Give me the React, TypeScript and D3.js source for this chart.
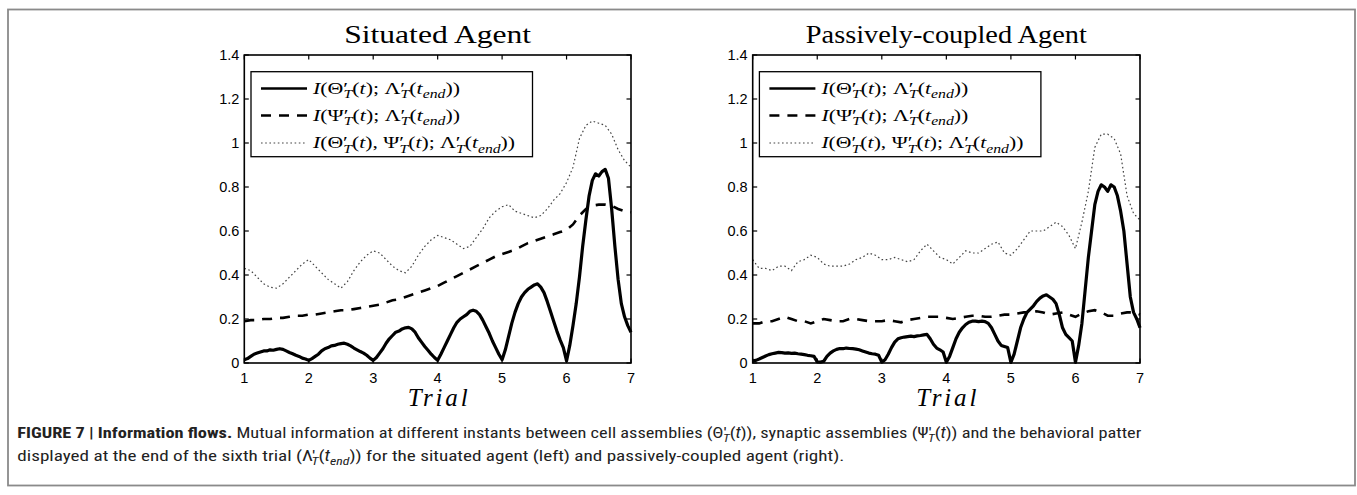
import React from 'react';
import * as d3 from 'd3';

// ---------- data ----------
const trialTicks = [1, 2, 3, 4, 5, 6, 7];
const valueTicks = [0, 0.2, 0.4, 0.6, 0.8, 1, 1.2, 1.4];
const valueTickLabels = ['0', '0.2', '0.4', '0.6', '0.8', '1', '1.2', '1.4'];
const panelTitles = ['Situated Agent', 'Passively-coupled Agent'];

// sample times (trial units): fine grid (step 0.05) and coarse grid (step 0.1)
const tFine = d3.range(121).map((i) => 1 + i * 0.05);
const tCoarse = d3.range(61).map((i) => 1 + i * 0.1);

// Situated agent
const solidLeft = [
  0.015, 0.02, 0.03, 0.04, 0.045, 0.05, 0.055, 0.055, 0.06, 0.058, 0.062, 0.065, 0.062, 0.055, 0.048, 0.042, 0.035, 0.03, 0.022, 0.018,
  0.012, 0.02, 0.03, 0.04, 0.055, 0.065, 0.07, 0.078, 0.08, 0.085, 0.088, 0.09, 0.085, 0.078, 0.068, 0.06, 0.052, 0.045, 0.035, 0.022,
  0.012, 0.025, 0.045, 0.065, 0.09, 0.11, 0.125, 0.14, 0.145, 0.155, 0.16, 0.162, 0.155, 0.14, 0.115, 0.095, 0.075, 0.058, 0.04, 0.025,
  0.012, 0.04, 0.07, 0.1, 0.13, 0.16, 0.185, 0.2, 0.21, 0.22, 0.235, 0.24, 0.235, 0.22, 0.195, 0.165, 0.135, 0.1, 0.07, 0.04,
  0.015, 0.06, 0.12, 0.18, 0.23, 0.27, 0.3, 0.32, 0.335, 0.345, 0.355, 0.36, 0.345, 0.32, 0.28, 0.235, 0.19, 0.145, 0.105, 0.07,
  0.01, 0.08, 0.17, 0.27, 0.39, 0.53, 0.65, 0.76, 0.83, 0.86, 0.85, 0.87, 0.88, 0.84, 0.7, 0.53, 0.38, 0.27, 0.21, 0.17,
  0.14,
];
const dashedLeft = [
  0.19, 0.195, 0.195, 0.2, 0.2, 0.205, 0.205, 0.21, 0.215, 0.215,
  0.22, 0.22, 0.225, 0.23, 0.235, 0.24, 0.24, 0.245, 0.25, 0.255,
  0.26, 0.265, 0.275, 0.285, 0.29, 0.3, 0.31, 0.32, 0.33, 0.34,
  0.35, 0.365, 0.38, 0.395, 0.41, 0.425, 0.44, 0.455, 0.47, 0.485,
  0.495, 0.505, 0.515, 0.53, 0.545, 0.555, 0.565, 0.575, 0.585, 0.595,
  0.605, 0.63, 0.67, 0.7, 0.715, 0.72, 0.72, 0.715, 0.7, 0.69,
  0.685,
];
const dottedLeft = [
  0.43, 0.42, 0.39, 0.36, 0.345, 0.34, 0.36, 0.39, 0.42, 0.45,
  0.47, 0.44, 0.41, 0.38, 0.36, 0.34, 0.37, 0.42, 0.46, 0.49,
  0.51, 0.5, 0.47, 0.44, 0.42, 0.41, 0.44, 0.49, 0.53, 0.56,
  0.58, 0.57, 0.56, 0.54, 0.52, 0.53, 0.57, 0.61, 0.66, 0.69,
  0.71, 0.72, 0.69, 0.68, 0.67, 0.66, 0.67, 0.7, 0.74, 0.77,
  0.82, 0.89, 1.02, 1.08, 1.1, 1.09, 1.08, 1.04, 0.97, 0.92,
  0.89,
];

// Passively-coupled agent
const solidRight = [
  0.01, 0.012, 0.018, 0.025, 0.032, 0.038, 0.042, 0.045, 0.048, 0.047, 0.045, 0.046, 0.044, 0.045, 0.042, 0.04, 0.038, 0.035, 0.033, 0.03,
  0.005, 0.004, 0.008, 0.03, 0.045, 0.055, 0.062, 0.066, 0.065, 0.068, 0.066, 0.065, 0.063, 0.06, 0.055, 0.05, 0.045, 0.042, 0.04, 0.035,
  0.004, 0.015, 0.04, 0.07, 0.095, 0.11, 0.115, 0.118, 0.12, 0.122, 0.12, 0.123, 0.125, 0.128, 0.13, 0.11, 0.085, 0.068, 0.06, 0.05,
  0.003, 0.03, 0.07, 0.11, 0.14, 0.16, 0.175, 0.185, 0.19, 0.19, 0.188, 0.19, 0.188, 0.18, 0.16, 0.13, 0.1, 0.08, 0.075, 0.07,
  0.003, 0.04, 0.1, 0.16, 0.2, 0.23, 0.245, 0.26, 0.28, 0.295, 0.305, 0.31, 0.3, 0.29, 0.27, 0.22, 0.16, 0.13, 0.115, 0.1,
  0.003, 0.08, 0.18, 0.33, 0.48, 0.6, 0.72, 0.78, 0.81, 0.8, 0.78, 0.81, 0.8, 0.76, 0.69, 0.6, 0.45, 0.3, 0.23, 0.2,
  0.16,
];
const dashedRight = [
  0.18, 0.18, 0.19, 0.19, 0.2, 0.21, 0.2, 0.19, 0.19, 0.18,
  0.19, 0.2, 0.195, 0.19, 0.19, 0.2, 0.2, 0.195, 0.19, 0.19,
  0.19, 0.195, 0.19, 0.185, 0.195, 0.2, 0.205, 0.21, 0.21, 0.21,
  0.205, 0.2, 0.205, 0.21, 0.215, 0.215, 0.21, 0.21, 0.215, 0.22,
  0.22, 0.225, 0.23, 0.23, 0.235, 0.23, 0.22, 0.225, 0.23, 0.22,
  0.21, 0.225, 0.235, 0.24, 0.23, 0.215, 0.215, 0.225, 0.23, 0.23,
  0.22,
];
const dottedRight = [
  0.47, 0.43, 0.43, 0.42, 0.44, 0.44, 0.42, 0.46, 0.47, 0.49,
  0.48, 0.45, 0.44, 0.44, 0.44, 0.45, 0.47, 0.48, 0.5, 0.49,
  0.47, 0.47, 0.48, 0.47, 0.46, 0.47, 0.51, 0.54, 0.51, 0.48,
  0.47, 0.45, 0.48, 0.51, 0.5, 0.5, 0.52, 0.54, 0.55, 0.5,
  0.49, 0.52, 0.56, 0.6, 0.6, 0.6, 0.62, 0.64, 0.62, 0.58,
  0.52, 0.64, 0.78, 0.98, 1.04, 1.04, 1.02, 0.95, 0.76, 0.68,
  0.65,
];

// ---------- text helpers ----------
type Seg = { s: string; it?: boolean; sub?: boolean; b?: boolean; dx?: number };

function Rich(props: {
  x: number; y: number; segs: Seg[]; size: number; len?: number; family: string;
  fill?: string; anchor?: string; adjust?: string;
}) {
  const { x, y, segs, size, len, family, fill = '#000', anchor = 'start', adjust = 'spacingAndGlyphs' } = props;
  const shift = size * 0.28;
  let cur = 0;
  const spans = segs.map((g, i) => {
    const target = g.sub ? shift : 0;
    const dy = target - cur;
    cur = target;
    return (
      <tspan
        key={i}
        dy={dy}
        dx={g.dx ?? 0}
        fontStyle={g.it ? 'italic' : 'normal'}
        fontWeight={g.b ? 'bold' : 'normal'}
        fontSize={g.sub ? size * 0.72 : size}
      >
        {g.s}
      </tspan>
    );
  });
  return (
    <text
      x={x}
      y={y}
      fontFamily={family}
      fontSize={size}
      fill={fill}
      textAnchor={anchor}
      textLength={len}
      lengthAdjust={len ? adjust : undefined}
      style={{ whiteSpace: 'pre' }}
    >
      {spans}
    </text>
  );
}

const SERIF = "'Liberation Serif', 'DejaVu Serif', serif";
const SANS = "'Liberation Sans', Arial, Helvetica, sans-serif";
const NARROW = "'Liberation Sans Narrow', 'Arial Narrow', 'Roboto Condensed', 'Liberation Sans', sans-serif";

const sub = (s: string, dx = 0): Seg => ({ s, sub: true, it: true, dx });
const it = (s: string): Seg => ({ s, it: true });

const legendRows: Seg[][] = [
  [it('I'), { s: '(Θ′' }, sub('T', -3.5), { s: '(' }, it('t'), { s: '); Λ′' }, sub('T', -3.5), { s: '(' }, it('t'), sub('end'), { s: '))' }],
  [it('I'), { s: '(Ψ′' }, sub('T', -3.5), { s: '(' }, it('t'), { s: '); Λ′' }, sub('T', -3.5), { s: '(' }, it('t'), sub('end'), { s: '))' }],
  [it('I'), { s: '(Θ′' }, sub('T', -3.5), { s: '(' }, it('t'), { s: '), Ψ′' }, sub('T', -3.5), { s: '(' }, it('t'), { s: '); Λ′' }, sub('T', -3.5), { s: '(' }, it('t'), sub('end'), { s: '))' }],
];
const legendLens = [147, 147, 202];

// ---------- layout ----------
const Y_TOP = 55;
const Y_BOT = 363;

type PanelProps = {
  x0: number; x1: number; title: string; titleLen: number;
  solid: number[]; dashed: number[]; dotted: number[];
};

function Panel({ x0, x1, title, titleLen, solid, dashed, dotted }: PanelProps) {
  const x = d3.scaleLinear().domain([1, 7]).range([x0, x1]);
  const y = d3.scaleLinear().domain([0, 1.4]).range([Y_BOT, Y_TOP]);
  const line = d3.line<[number, number]>().x((d) => x(d[0])).y((d) => y(d[1]));
  const solidPts = tFine.map((t, i) => [t, solid[i]] as [number, number]);
  const dashedPts = tCoarse.map((t, i) => [t, dashed[i]] as [number, number]);
  const dottedPts = tCoarse.map((t, i) => [t, dotted[i]] as [number, number]);
  const cx = (x0 + x1) / 2;
  const tick = 4.5;
  const lx = x0 + 6.7;
  const ly = 71.7;
  const lw = 281.5;
  const lh = 85;
  const rowY = [88.5, 115.5, 143];
  return (
    <g>
      <text x={cx} y={43} textAnchor="middle" fontFamily={SERIF} fontSize={25.5} textLength={titleLen} lengthAdjust="spacingAndGlyphs">
        {title}
      </text>
      <path d={line(dottedPts) || ''} fill="none" stroke="#444" strokeWidth={1.2} strokeDasharray="1.6,2.6" />
      <path d={line(dashedPts) || ''} fill="none" stroke="#000" strokeWidth={2.6} strokeDasharray="10,8" />
      <path d={line(solidPts) || ''} fill="none" stroke="#000" strokeWidth={3.2} strokeLinejoin="round" />
      {/* frame */}
      <rect x={x0} y={Y_TOP} width={x1 - x0} height={Y_BOT - Y_TOP} fill="none" stroke="#000" strokeWidth={1.6} />
      {/* ticks */}
      {trialTicks.map((t) => (
        <g key={'xt' + t}>
          <line x1={x(t)} x2={x(t)} y1={Y_BOT} y2={Y_BOT - tick} stroke="#000" strokeWidth={1.2} />
          <line x1={x(t)} x2={x(t)} y1={Y_TOP} y2={Y_TOP + tick} stroke="#000" strokeWidth={1.2} />
          <text x={x(t)} y={382.5} textAnchor="middle" fontFamily={SANS} fontSize={14.5}>{t}</text>
        </g>
      ))}
      {valueTicks.map((v, i) => (
        <g key={'yt' + v}>
          <line x1={x0} x2={x0 + tick} y1={y(v)} y2={y(v)} stroke="#000" strokeWidth={1.2} />
          <line x1={x1} x2={x1 - tick} y1={y(v)} y2={y(v)} stroke="#000" strokeWidth={1.2} />
          <text x={x0 - 5} y={y(v) + 5} textAnchor="end" fontFamily={SANS} fontSize={14.5}>{valueTickLabels[i]}</text>
        </g>
      ))}
      {/* legend */}
      <rect x={lx} y={ly} width={lw} height={lh} fill="#fff" stroke="#000" strokeWidth={1.3} />
      <line x1={lx + 10} x2={lx + 56} y1={rowY[0]} y2={rowY[0]} stroke="#000" strokeWidth={2.6} />
      <line x1={lx + 10} x2={lx + 56} y1={rowY[1]} y2={rowY[1]} stroke="#000" strokeWidth={2.6} strokeDasharray="10,8" />
      <line x1={lx + 10} x2={lx + 56} y1={rowY[2]} y2={rowY[2]} stroke="#444" strokeWidth={1.2} strokeDasharray="1.6,2.6" />
      {legendRows.map((segs, i) => (
        <Rich key={i} x={lx + 62} y={rowY[i] + 5} segs={segs} size={16.5} len={legendLens[i]} family={SERIF} />
      ))}
      {/* x label */}
      <text x={cx} y={406} textAnchor="middle" fontFamily={SERIF} fontStyle="italic" fontSize={25} textLength={60} lengthAdjust="spacing">
        Trial
      </text>
    </g>
  );
}

const captionLine1: Seg[] = [
  { s: 'FIGURE 7 | Information flows.', b: true },
  { s: ' Mutual information at different instants between cell assemblies (Θ′' },
  { s: 'T', sub: true, it: true, dx: -3 },
  { s: '(' }, it('t'), { s: ')), synaptic assemblies (Ψ′' },
  { s: 'T', sub: true, it: true, dx: -3 },
  { s: '(' }, it('t'), { s: ')) and the behavioral patter' },
];
const captionLine2: Seg[] = [
  { s: 'displayed at the end of the sixth trial (Λ′' },
  { s: 'T', sub: true, it: true, dx: -3 },
  { s: '(' }, it('t'), { s: 'end', sub: true, it: true },
  { s: ')) for the situated agent (left) and passively-coupled agent (right).' },
];

export default function App() {
  return (
    <svg
      width={1357}
      height={495}
      viewBox="0 0 1357 495"
      style={{ position: 'absolute', left: 0, top: 0, background: '#fff' }}
    >
      <rect x={0} y={0} width={1357} height={495} fill="#fff" />
      <rect x={8} y={9.5} width={1347} height={476} fill="none" stroke="#8a8a8a" strokeWidth={1.8} />
      <Panel x0={244.3} x1={631} title={panelTitles[0]} titleLen={187} solid={solidLeft} dashed={dashedLeft} dotted={dottedLeft} />
      <Panel x0={752.7} x1={1140} title={panelTitles[1]} titleLen={281} solid={solidRight} dashed={dashedRight} dotted={dottedRight} />
      <Rich x={17.3} y={437.5} segs={captionLine1} size={15.5} len={1124} family={NARROW} fill="#222" />
      <Rich x={17.3} y={460.5} segs={captionLine2} size={15.5} len={827} family={NARROW} fill="#222" />
    </svg>
  );
}
